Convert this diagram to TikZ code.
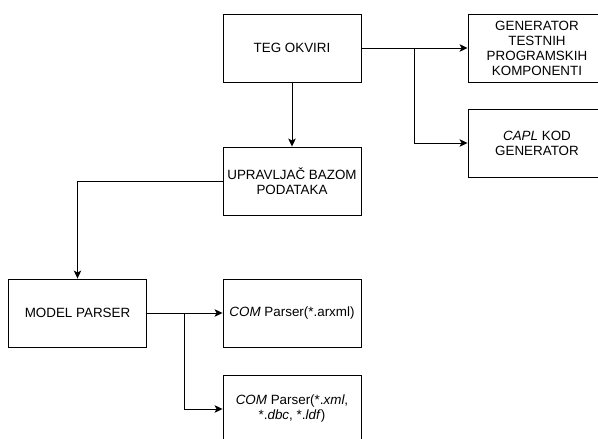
\documentclass[tikz,border=0pt]{standalone}
\usepackage{fontspec}
\setmainfont{Liberation Sans}
\usepackage{tikz}
\usetikzlibrary{positioning,arrows.meta}
\tikzset{
  flowarrow/.style={-{Stealth[length=8pt, width=7.5pt, inset=2pt]}, line width=0.9pt},
  block/.style={draw, line width=0.9pt, fill=white, minimum width=138pt, minimum height=68pt, align=center, inner sep=1pt}
}
\begin{document}
\begin{tikzpicture}[x=1pt, y=-1pt, every node/.style={font=\fontsize{13.4pt}{15pt}\selectfont}]
  \useasboundingbox (0,0) rectangle (598,439);
  \clip (0,0) rectangle (598,439);
  \fill[white] (0,0) rectangle (598,439);
  % top row
  \node[block] (teg) at (292,48) {TEG OKVIRI};
  \node[block] (gen) at (537,48) {GENERATOR\\TESTNIH\\PROGRAMSKIH\\KOMPONENTI};
  \node[block] (capl) at (537,143) {\textit{CAPL} KOD\\GENERATOR};
  \node[block] (upr) at (292,181) {UPRAVLJAČ BAZOM\\PODATAKA};
  % parsers
  \node[block] (model) at (77.5,313) {MODEL PARSER};
  \node[block] (arxml) at (292,313) {\textit{COM} Parser(*.arxml)};
  \node[block] (xmlbox) at (292,409) {\textit{COM} Parser(*.\textit{xml},\\*.\textit{dbc}, *.\textit{ldf})};
  \coordinate (split1) at (414,48);
  \coordinate (split2) at (184,313);
  \draw[flowarrow] (teg) -- (upr);
  \draw[flowarrow] (teg.east) -- (gen.west);
  \draw[flowarrow] (split1) |- (capl.west);
  \draw[flowarrow] (upr.west) -| (model.north);
  \draw[flowarrow] (model.east) -- (arxml.west);
  \draw[flowarrow] (split2) |- (xmlbox.west);
\end{tikzpicture}
\end{document}
